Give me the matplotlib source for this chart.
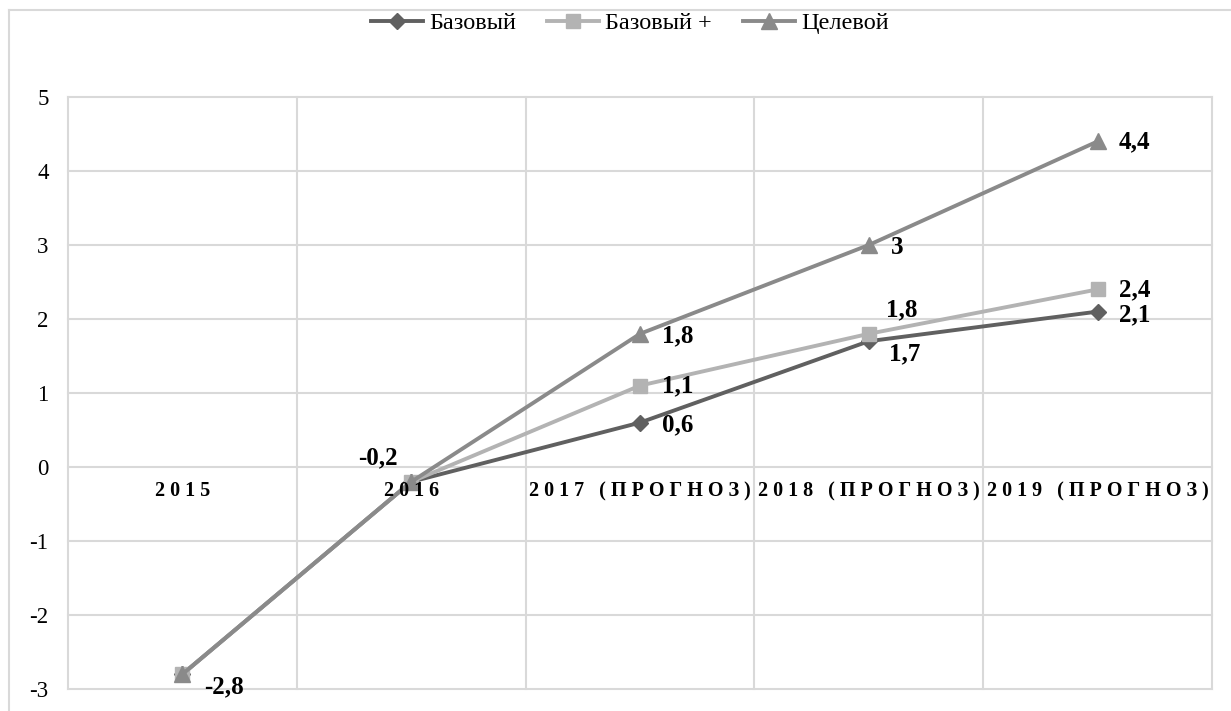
import matplotlib
matplotlib.use("Agg")
import matplotlib.pyplot as plt
from matplotlib.lines import Line2D

# Data
categories = ["2015", "2016", "2017 (ПРОГНОЗ)", "2018 (ПРОГНОЗ)", "2019 (ПРОГНОЗ)"]
base = [-2.8, -0.2, 0.6, 1.7, 2.1]
base_plus = [-2.8, -0.2, 1.1, 1.8, 2.4]
target = [-2.8, -0.2, 1.8, 3.0, 4.4]
series_names = ["Базовый", "Базовый +", "Целевой"]
y_ticks = [-3, -2, -1, 0, 1, 2, 3, 4, 5]

SERIF = ["Liberation Serif", "DejaVu Serif"]
plt.rcParams["font.family"] = SERIF

colors = ["#606060", "#b3b3b3", "#8a8a8a"]
markers = ["D", "s", "^"]
msizes = [8.5, 9.5, 11]
grid_c = "#d9d9d9"

W, H = 1231, 711
fig = plt.figure(figsize=(W / 100, H / 100), dpi=100)
ax = fig.add_axes([68 / W, (H - 689) / H, (1212 - 68) / W, (689 - 97) / H])

x = list(range(len(categories)))
all_series = [base, base_plus, target]
for vals, c, m, ms, name in zip(all_series, colors, markers, msizes, series_names):
    ax.plot(x, vals, color=c, lw=2.8, marker=m, markersize=ms,
            markeredgecolor=c, markerfacecolor=c, label=name, zorder=3)

ax.set_xlim(-0.5, len(categories) - 0.5)
ax.set_ylim(-3, 5)
ax.set_yticks(y_ticks)
ax.set_yticklabels([str(v) for v in y_ticks], fontsize=16.5)
ax.tick_params(axis="y", length=0, pad=14)
ax.set_xticks([])

# Gridlines
for v in y_ticks:
    ax.axhline(v, color=grid_c, lw=1.5, zorder=1, clip_on=False)
for b in [i - 0.5 for i in range(len(categories) + 1)]:
    ax.axvline(b, color=grid_c, lw=1.5, zorder=1, clip_on=False)
for s in ax.spines.values():
    s.set_visible(False)


def spaced(label):
    words = label.split(" ")
    return "   ".join(" ".join(w) for w in words)


# Category labels sit just under the zero line
for xi, lab in zip(x, categories):
    ax.annotate(spaced(lab), xy=(xi, 0), xytext=(0, -17.5), textcoords="offset points",
                ha="center", va="center", fontsize=14.5, fontweight="bold",
                family=SERIF, zorder=4)


def fmt(v):
    return ("%g" % v).replace(".", ",")


# Data labels: (series values, index, dx px, dy px, ha)
label_spec = [
    (base, 0, 22, -13, "left"),
    (base, 1, -13, 24, "right"),
    (base, 2, 22, -2, "left"),
    (base_plus, 2, 22, 0, "left"),
    (target, 2, 22, -2, "left"),
    (base, 3, 20, -13, "left"),
    (base_plus, 3, 17, 24, "left"),
    (target, 3, 22, -2, "left"),
    (base, 4, 21, -3, "left"),
    (base_plus, 4, 21, 0, "left"),
    (target, 4, 21, 0, "left"),
]
for vals, i, dx, dy, ha in label_spec:
    ax.annotate(fmt(vals[i]), xy=(i, vals[i]), xytext=(dx * 0.72, dy * 0.72),
                textcoords="offset points", ha=ha, va="center",
                fontsize=18, fontweight="bold", zorder=5)

# Legend
handles = [Line2D([0], [0], color=c, lw=2.8, marker=m, markersize=ms,
                  markerfacecolor=c, markeredgecolor=c)
           for c, m, ms in zip(colors, markers, msizes)]
fig.legend(handles, series_names, loc="center", bbox_to_anchor=(630 / W, 1 - 23 / H),
           ncol=3, frameon=False, fontsize=17.5, handlelength=2.14,
           handletextpad=0.25, columnspacing=1.28)

# Chart frame (left and top edges)
fig.add_artist(Line2D([9 / W, 9 / W], [0, 1 - 10 / H], color=grid_c, lw=1.5,
                      transform=fig.transFigure))
fig.add_artist(Line2D([9 / W, 1], [1 - 10 / H, 1 - 10 / H], color=grid_c, lw=1.5,
                      transform=fig.transFigure))

fig.savefig("out.png", dpi=100, facecolor="white")
